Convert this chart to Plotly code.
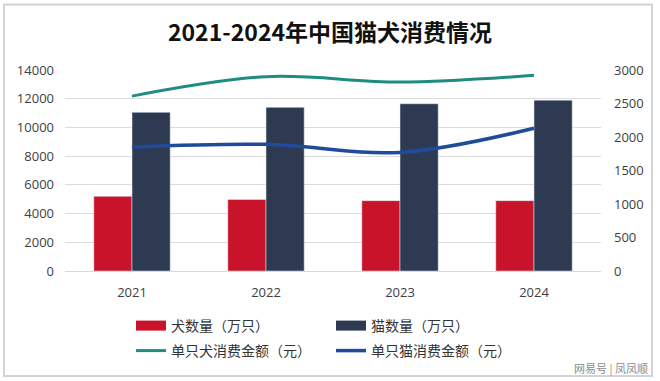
import plotly.graph_objects as go

years = ["2021", "2022", "2023", "2024"]
dog_count = [5200, 4980, 4900, 4900]      # 万只
cat_count = [11050, 11400, 11650, 11900]  # 万只
dog_spend = [2610, 2900, 2820, 2920]      # 元
cat_spend = [1850, 1890, 1770, 2130]      # 元

RED = "#C8132B"
NAVY = "#2E3A51"
TEAL = "#1E8C82"
BLUE = "#1F4B9B"
FONT = "Noto Sans CJK SC"

fig = go.Figure()
fig.add_trace(go.Bar(x=years, y=dog_count, name="犬数量（万只）", marker_color=RED,
                     showlegend=False, legendgroup="dog"))
fig.add_trace(go.Bar(x=years, y=cat_count, name="猫数量（万只）", marker_color=NAVY,
                     showlegend=False, legendgroup="cat"))
# legend entries with wide swatches for the bars
fig.add_trace(go.Scatter(x=[None], y=[None], mode="lines", name="犬数量（万只）",
                         line=dict(color=RED, width=10), legendgroup="dog",
                         legend="legend"))
fig.add_trace(go.Scatter(x=[None], y=[None], mode="lines", name="猫数量（万只）",
                         line=dict(color=NAVY, width=10), legendgroup="cat",
                         legend="legend"))
fig.add_trace(go.Scatter(x=years, y=dog_spend, name="单只犬消费金额（元）", mode="lines",
                         line=dict(color=TEAL, width=3, shape="spline"), yaxis="y2",
                         legend="legend2"))
fig.add_trace(go.Scatter(x=years, y=cat_spend, name="单只猫消费金额（元）", mode="lines",
                         line=dict(color=BLUE, width=3.5, shape="spline"), yaxis="y2",
                         legend="legend2"))

L, R, T, B = 65, 59, 70, 110
PW, PH = 660 - L - R, 381 - T - B


def px(xp):
    return (xp - L) / PW


def py(yp):
    return (381 - B - yp) / PH


legend_common = dict(orientation="h", xanchor="left", yanchor="middle",
                     x=px(131), entrywidth=155, entrywidthmode="pixels",
                     traceorder="normal",
                     font=dict(family=FONT, size=14, color="#333333"),
                     bgcolor="rgba(0,0,0,0)")

fig.update_layout(
    width=660, height=381,
    margin=dict(l=L, r=R, t=T, b=B),
    paper_bgcolor="white", plot_bgcolor="white",
    font=dict(family=FONT, color="#404040", size=13),
    title=dict(text="<b>2021-2024年中国猫犬消费情况</b>", x=0.5, xref="container",
               y=1 - 33 / 381, yanchor="middle", xanchor="center",
               font=dict(family=FONT, size=23, color="#111111")),
    barmode="group", bargap=0.43, bargroupgap=0,
    xaxis=dict(type="category", showgrid=False, showline=True, linecolor="#d9d9d9",
               linewidth=1, ticks="", ticklabelstandoff=9,
               tickfont=dict(family="Open Sans", size=13, color="#404040")),
    yaxis=dict(range=[0, 14000], dtick=2000, tickformat="d", showgrid=True,
               gridcolor="#dcdcdc", zeroline=False, showline=False, ticks="",
               ticklabelstandoff=10,
               tickfont=dict(family="Open Sans", size=13, color="#404040")),
    yaxis2=dict(range=[0, 3000], dtick=500, tickformat="d", overlaying="y",
                side="right", showgrid=False, zeroline=False, showline=False,
                ticks="", ticklabelstandoff=12,
                tickfont=dict(family="Open Sans", size=13, color="#404040")),
    legend=dict(legend_common, y=py(326)),
    legend2=dict(legend_common, y=py(351)),
    shapes=[dict(type="rect", xref="paper", yref="paper",
                 x0=px(4), x1=px(652), y0=py(376), y1=py(4.5),
                 line=dict(color="#d3d4da", width=2), fillcolor="rgba(0,0,0,0)",
                 layer="below")],
    annotations=[dict(text="网易号 | 凤凤顺", xref="paper", yref="paper",
                      x=px(650), y=py(368), xanchor="right",
                      yanchor="middle", showarrow=False,
                      font=dict(family=FONT, size=11, color="#8a8a8a"))],
)

fig.write_html("out.html", config={"displayModeBar": False},
               post_script="document.body.style.margin='0';document.body.style.overflow='hidden';")
